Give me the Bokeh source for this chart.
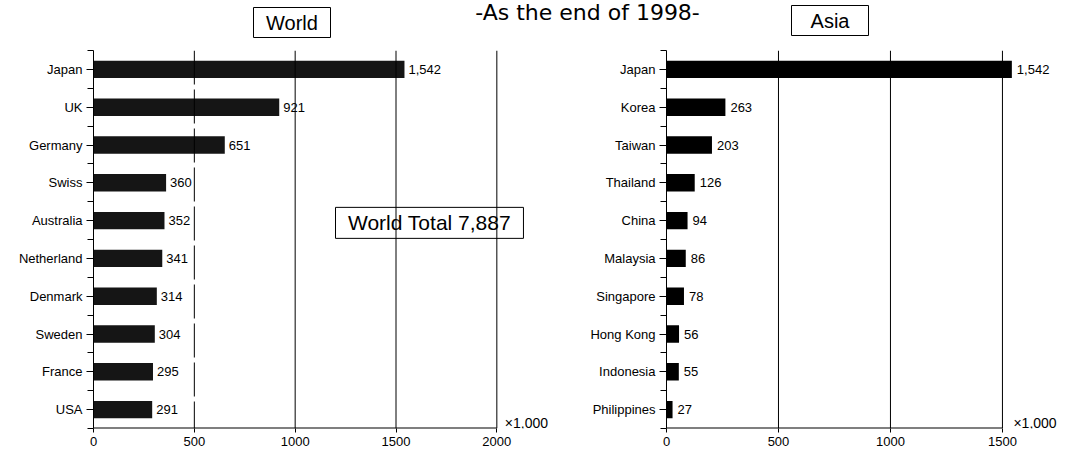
from bokeh.plotting import figure
from bokeh.models import Range1d, FixedTicker, Span, ColumnDataSource
from bokeh.layouts import column, row
from bokeh.core.properties import value
from bokeh.embed import file_html
from bokeh.resources import INLINE

# Number of subscribers (x1,000), end of 1998
world_countries = ["Japan", "UK", "Germany", "Swiss", "Australia",
                   "Netherland", "Denmark", "Sweden", "France", "USA"]
world_values = [1542, 921, 651, 360, 352, 341, 314, 304, 295, 291]
world_ticks = [0, 500, 1000, 1500, 2000]
world_total = 7887

asia_countries = ["Japan", "Korea", "Taiwan", "Thailand", "China",
                  "Malaysia", "Singapore", "Hong Kong", "Indonesia", "Philippines"]
asia_values = [1542, 263, 203, 126, 94, 86, 78, 56, 55, 27]
asia_ticks = [0, 500, 1000, 1500]

title_text = "-As the end of 1998-"
unit_text = "\u00d71,000"

FONT = "Liberation Sans"
BOX_FONT = "Liberation Sans"


def make_panel(cats, vals, ticks, x_end, width, border_left, border_right,
               bar_color, label_offset, unit_offset, dashed_first):
    n = len(cats)
    pos = [n - i - 0.5 for i in range(n)]
    src = ColumnDataSource(dict(y=pos, v=vals, lab=[f"{v:,}" for v in vals]))

    p = figure(width=width, height=412,
               x_range=Range1d(0, x_end), y_range=Range1d(0, n),
               output_backend="svg", toolbar_location=None,
               min_border_left=border_left, min_border_right=border_right,
               min_border_top=10, min_border_bottom=24,
               outline_line_color=None)
    p.xgrid.visible = False
    p.ygrid.visible = False

    # vertical reference lines at the tick values
    for t in ticks[1:]:
        dash = "34 5" if (dashed_first and t == ticks[1]) else "solid"
        p.add_layout(Span(location=t, dimension="height", line_color="black",
                          line_width=1, line_dash=dash))

    p.hbar(y="y", left=0, right="v", height=0.46, source=src,
           fill_color=bar_color, line_color=None)
    p.text(x="v", y="y", text="lab", source=src, x_offset=label_offset,
           text_baseline="middle", text_align="left",
           text_font=value(FONT), text_font_size="13px", text_color="black")

    # baseline of the value axis, drawn only up to the last tick
    p.segment(x0=[ticks[0]], y0=[0], x1=[ticks[-1]], y1=[0],
              line_color="black", line_width=2)
    p.text(x=[ticks[-1]], y=[0.15], text=[unit_text], x_offset=unit_offset,
           text_baseline="middle", text_align="left",
           text_font=value(FONT), text_font_size="14px", text_color="black")

    xa = p.xaxis[0]
    xa.ticker = FixedTicker(ticks=ticks)
    xa.axis_line_color = None
    xa.major_tick_out = 4
    xa.major_tick_in = 0
    xa.minor_tick_line_color = None
    xa.major_label_standoff = 4
    xa.major_label_text_font = FONT
    xa.major_label_text_font_size = "13px"
    xa.major_label_text_color = "black"

    ya = p.yaxis[0]
    ya.ticker = FixedTicker(ticks=pos, minor_ticks=list(range(n + 1)))
    ya.major_label_overrides = {pp: c for pp, c in zip(pos, cats)}
    ya.axis_line_width = 1
    ya.axis_line_color = "black"
    ya.major_tick_out = 7
    ya.major_tick_in = 0
    ya.minor_tick_out = 6
    ya.minor_tick_in = 0
    ya.minor_tick_line_color = "black"
    ya.major_label_standoff = 4
    ya.major_label_text_font = FONT
    ya.major_label_text_font_size = "13px"
    ya.major_label_text_color = "black"
    return p


left = make_panel(world_countries, world_values, world_ticks, 2400, 580,
                  93, 3, "#151515", 4, 8, True)
right = make_panel(asia_countries, asia_values, asia_ticks, 1786, 488,
                   86, 2, "#000000", 5, 11, False)

# boxed total inside the World panel
left.quad(left=[1200], right=[2132], bottom=[5.03], top=[5.85],
          fill_color="white", line_color="black", line_width=1)
left.text(x=[1666], y=[5.44], text=[f"World Total {world_total:,}"],
          text_align="center", text_baseline="middle",
          text_font=value(BOX_FONT), text_font_size="21px", text_color="black")

# header strip: overall title and the two panel captions
head = figure(width=1068, height=40, x_range=Range1d(0, 1068),
              y_range=Range1d(40, 0), output_backend="svg",
              toolbar_location=None, min_border=0, outline_line_color=None)
head.axis.visible = False
head.grid.visible = False
head.text(x=[587], y=[12], text=[title_text], text_align="center",
          text_baseline="middle", text_font=value("DejaVu Sans"),
          text_font_size="22px", text_color="black")
head.quad(left=[253, 791], right=[330, 868], top=[7, 5], bottom=[37, 35],
          fill_color="white", line_color="black", line_width=1)
head.text(x=[291.5, 829.5], y=[22.5, 20.5], text=["World", "Asia"],
          text_align="center", text_baseline="middle",
          text_font=value(BOX_FONT), text_font_size="20px", text_color="black")

layout = column(head, row(left, right, spacing=0), spacing=0)

with open("out.html", "w") as f:
    f.write(file_html(layout, INLINE))
